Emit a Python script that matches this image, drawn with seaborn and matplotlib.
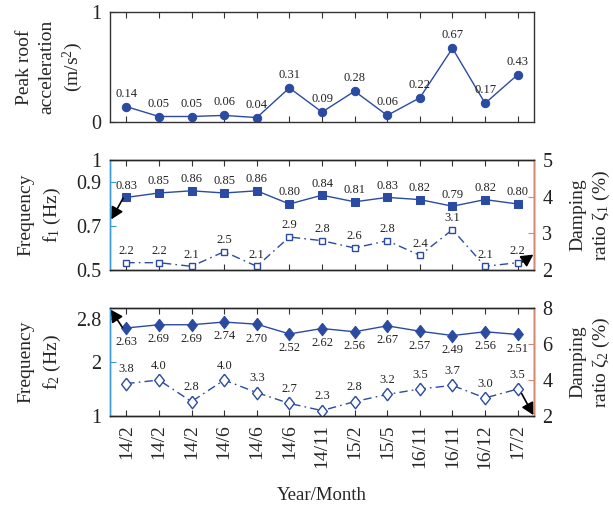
import numpy as np
import pandas as pd
import matplotlib
matplotlib.use("Agg")
import matplotlib.pyplot as plt
import seaborn as sns

# ---- data ----
months = ["14/2", "14/2", "14/2", "14/6", "14/6", "14/6", "14/11",
          "15/2", "15/5", "16/11", "16/11", "16/12", "17/2"]
peak_acc = [0.14, 0.05, 0.05, 0.06, 0.04, 0.31, 0.09, 0.28, 0.06, 0.22, 0.67, 0.17, 0.43]
freq1 = [0.83, 0.85, 0.86, 0.85, 0.86, 0.80, 0.84, 0.81, 0.83, 0.82, 0.79, 0.82, 0.80]
damp1 = [2.2, 2.2, 2.1, 2.5, 2.1, 2.9, 2.8, 2.6, 2.8, 2.4, 3.1, 2.1, 2.2]
freq2 = [2.63, 2.69, 2.69, 2.74, 2.70, 2.52, 2.62, 2.56, 2.67, 2.57, 2.49, 2.56, 2.51]
damp2 = [3.8, 4.0, 2.8, 4.0, 3.3, 2.7, 2.3, 2.8, 3.2, 3.5, 3.7, 3.0, 3.5]

df = pd.DataFrame({"idx": np.arange(len(months)), "acc": peak_acc,
                   "f1": freq1, "z1": damp1, "f2": freq2, "z2": damp2})

# ---- style ----
sns.set_theme(style="ticks")
plt.rcParams["font.family"] = ["Liberation Serif", "DejaVu Serif"]
plt.rcParams["mathtext.fontset"] = "custom"
plt.rcParams["mathtext.rm"] = "Liberation Serif"
plt.rcParams["mathtext.it"] = "Liberation Serif:italic"
plt.rcParams["axes.linewidth"] = 1.0

BLUE = "#2b4ba2"
LEFT_C = "#3b9ad8"
RIGHT_C = "#d48a6e"
TXT = "#222222"
TICK_FS = 14.5
LAB_FS = 14
LAB_LS = 1.5
VAL_FS = 9
DIAMOND = [(0, 1), (0.78, 0), (0, -1), (-0.78, 0), (0, 1)]
DASHDOT = (0, (6, 3, 1.2, 3))

fig = plt.figure(figsize=(6.13, 5.07), dpi=100)
L, W = 110 / 613, 424 / 613
ax1 = fig.add_axes([L, 1 - 122 / 507, W, 110 / 507])
ax2 = fig.add_axes([L, 1 - 270 / 507, W, 110 / 507])
ax3 = fig.add_axes([L, 1 - 416 / 507, W, 108 / 507])


def base_axes(ax):
    ax.set_xlim(-0.5, len(months) - 0.5)
    ax.set_xticks(df["idx"])
    ax.tick_params(axis="x", direction="in", top=True, bottom=True,
                   length=4, width=0.8, color="#333333")
    ax.tick_params(axis="y", direction="in", length=4, width=0.8,
                   labelsize=TICK_FS, pad=6)
    for s in ax.spines.values():
        s.set_color("#333333")
        s.set_visible(True)


def label_points(ax, xs, ys, fmt, dy, va):
    for x, y in zip(xs, ys):
        ax.annotate(fmt.format(y), (x, y), xytext=(0, dy),
                    textcoords="offset points", ha="center", va=va,
                    fontsize=VAL_FS, color=TXT)


def arrow(ax, tail, head):
    ax.annotate("", xy=head, xytext=tail, xycoords="data",
                arrowprops=dict(arrowstyle="-|>,head_length=0.6,head_width=0.32",
                                color="black", lw=1.2,
                                mutation_scale=12, shrinkA=0, shrinkB=0),
                annotation_clip=False)


def right_axis(ax, col, lim, ticks, label):
    axr = ax.twinx()
    sns.lineplot(data=df, x="idx", y=col, ax=axr, color=BLUE, lw=1.0,
                 linestyle=DASHDOT, markeredgecolor=BLUE,
                 markerfacecolor="white", markeredgewidth=1.0, sort=False,
                 **marker_kw[col])
    axr.set_ylim(*lim)
    axr.set_yticks(ticks)
    axr.set_xlim(-0.5, len(months) - 0.5)
    axr.tick_params(axis="y", direction="in", length=4, width=0.8,
                    labelsize=TICK_FS, colors=RIGHT_C, labelcolor=TXT, pad=6)
    axr.set_ylabel(label, fontsize=LAB_FS, linespacing=1.3)
    axr.yaxis.set_label_coords(1.083, 0.5)
    ax.spines["left"].set_color(LEFT_C)
    ax.tick_params(axis="y", colors=LEFT_C, labelcolor=TXT)
    axr.spines["left"].set_color(LEFT_C)
    axr.spines["right"].set_color(RIGHT_C)
    return axr


marker_kw = {"z1": dict(marker="s", markersize=5),
             "z2": dict(marker=DIAMOND, markersize=9)}

# ---- panel 1: peak roof acceleration ----
base_axes(ax1)
sns.lineplot(data=df, x="idx", y="acc", ax=ax1, color=BLUE, lw=1.0,
             marker="o", markersize=6, markeredgecolor=BLUE,
             markerfacecolor=BLUE, sort=False)
ax1.set_ylim(0, 1)
ax1.set_yticks([0, 1])
ax1.set_yticklabels(["0", "1"])
ax1.set_xticklabels([])
ax1.set_xlabel("")
ax1.set_ylabel("Peak roof\nacceleration\n(m/s$^2$)", fontsize=LAB_FS,
               linespacing=1.35)
ax1.yaxis.set_label_coords(-0.058, 0.5)
label_points(ax1, df["idx"], df["acc"], "{:.2f}", 5, "bottom")

# ---- panel 2: first mode ----
base_axes(ax2)
sns.lineplot(data=df, x="idx", y="f1", ax=ax2, color=BLUE, lw=1.0,
             marker="s", markersize=5.5, markeredgecolor=BLUE,
             markerfacecolor=BLUE, sort=False)
ax2.set_ylim(0.5, 1.0)
ax2.set_yticks([0.5, 0.7, 0.9, 1.0])
ax2.set_yticklabels(["0.5", "0.7", "0.9", "1"])
ax2.set_xticklabels([])
ax2.set_xlabel("")
ax2.set_ylabel("Frequency\nf$_1$ (Hz)", fontsize=LAB_FS, linespacing=LAB_LS)
ax2.yaxis.set_label_coords(-0.11, 0.5)
label_points(ax2, df["idx"], df["f1"], "{:.2f}", 4, "bottom")

ax2r = right_axis(ax2, "z1", (2, 5), [2, 3, 4, 5], "Damping\nratio ζ$_1$ (%)")
label_points(ax2r, df["idx"], df["z1"], "{:.1f}", 4, "bottom")
arrow(ax2, (-0.1, 0.826), (-0.46, 0.73))
arrow(ax2r, (12.15, 2.22), (12.48, 2.42))

# ---- panel 3: second mode ----
base_axes(ax3)
sns.lineplot(data=df, x="idx", y="f2", ax=ax3, color=BLUE, lw=1.0,
             marker=DIAMOND, markersize=9, markeredgecolor=BLUE,
             markerfacecolor=BLUE, sort=False)
ax3.set_ylim(1, 3)
ax3.set_yticks([1, 2, 2.8])
ax3.set_yticklabels(["1", "2", "2.8"])
ax3.set_xticklabels(months, rotation=90, fontsize=14)
ax3.tick_params(axis="x", pad=6)
ax3.set_xlabel("Year/Month", fontsize=13.5, labelpad=13)
ax3.set_ylabel("Frequency\nf$_2$ (Hz)", fontsize=LAB_FS, linespacing=LAB_LS)
ax3.yaxis.set_label_coords(-0.11, 0.5)
label_points(ax3, df["idx"], df["f2"], "{:.2f}", -6, "top")

ax3r = right_axis(ax3, "z2", (2, 8), [2, 4, 6, 8], "Damping\nratio ζ$_2$ (%)")
label_points(ax3r, df["idx"], df["z2"], "{:.1f}", 6, "bottom")
arrow(ax3, (-0.12, 2.64), (-0.48, 2.97))
arrow(ax3r, (12.12, 3.25), (12.48, 2.05))

for ax in (ax1, ax2, ax3):
    ax.set_xlim(-0.5, len(months) - 0.5)

fig.savefig("out.png", dpi=100)
